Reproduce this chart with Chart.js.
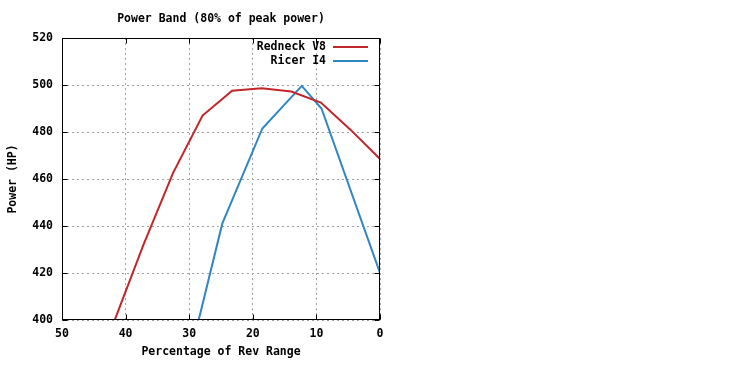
<!DOCTYPE html>
<html>
<head>
<meta charset="utf-8">
<title>Power Band</title>
<script src="https://cdn.jsdelivr.net/npm/chart.js@4.4.0/dist/chart.umd.min.js"></script>
<style>
body { margin: 0; background: #fff; }
#wrap { width: 740px; height: 374px; }
</style>
</head>
<body>
<div id="wrap"><canvas id="powerChart" width="740" height="374"></canvas></div>
<script>
// values
let revPctV8 = [0, 4.65, 9.3, 13.95, 18.6, 23.25, 27.9, 32.55, 37.2, 41.85]
let powerV8 = [468.5, 481, 492.5, 497.2, 498.6, 497.6, 487, 462.5, 432, 399]
let revPctI4 = [0, 9.2, 12.3, 18.5, 24.8, 28.6]
let powerI4 = [420, 490, 499.6, 481.5, 441, 399]
let seriesNames = ['Redneck V8', 'Ricer I4']
let seriesColors = ['#c0262a', '#2f86c0']
let chartTitle = 'Power Band (80% of peak power)'
let xTitle = 'Percentage of Rev Range'
let yTitle = 'Power (HP)'

let font = { family: '"DejaVu Sans Mono", monospace', size: 11.5, weight: 'bold' }
let fontCss = 'bold 11.5px "DejaVu Sans Mono", monospace'

function toPoints(xs, ys) {
    let pts = []
    for (let i = 0; i < xs.length; i++) {
        pts.push({ x: xs[i], y: ys[i] })
    }
    return pts
}

// gnuplot style frame, inward ticks, title and key
let framePlugin = {
    id: 'frame',
    afterDraw(chart) {
        let ctx = chart.ctx
        let a = chart.chartArea
        let l = Math.round(a.left) + 0.5
        let r = Math.round(a.right) - 0.5
        let t = Math.round(a.top) + 0.5
        let b = Math.round(a.bottom) - 0.5
        ctx.save()
        ctx.strokeStyle = '#000'
        ctx.lineWidth = 1
        ctx.strokeRect(l, t, r - l, b - t)

        let xs = chart.scales.x
        let ys = chart.scales.y
        ctx.beginPath()
        for (let tk of ys.ticks) {
            let py = Math.round(ys.getPixelForValue(tk.value)) + 0.5
            ctx.moveTo(l, py); ctx.lineTo(l + 5, py)
            ctx.moveTo(r, py); ctx.lineTo(r - 5, py)
        }
        for (let tk of xs.ticks) {
            let px = Math.round(xs.getPixelForValue(tk.value)) + 0.5
            ctx.moveTo(px, b); ctx.lineTo(px, b - 5)
            ctx.moveTo(px, t); ctx.lineTo(px, t + 5)
        }
        ctx.stroke()

        ctx.fillStyle = '#000'
        ctx.font = fontCss
        ctx.textAlign = 'center'
        ctx.textBaseline = 'middle'
        ctx.fillText(chartTitle, (a.left + a.right) / 2, 19)

        ctx.textAlign = 'right'
        for (let i = 0; i < seriesNames.length; i++) {
            let ky = 47 + i * 14
            ctx.fillStyle = '#000'
            ctx.fillText(seriesNames[i], 326, ky)
            ctx.strokeStyle = seriesColors[i]
            ctx.lineWidth = 2
            ctx.beginPath()
            ctx.moveTo(333, ky)
            ctx.lineTo(368, ky)
            ctx.stroke()
        }
        ctx.restore()
    }
}

function drawPowerChart() {
    let chartData = {
        datasets: [{
            label: seriesNames[0],
            data: toPoints(revPctV8, powerV8),
            borderColor: seriesColors[0],
            borderWidth: 2,
            pointRadius: 0,
            showLine: true,
            fill: false
        }, {
            label: seriesNames[1],
            data: toPoints(revPctI4, powerI4),
            borderColor: seriesColors[1],
            borderWidth: 2,
            pointRadius: 0,
            showLine: true,
            fill: false
        }]
    }

    let ctx = document.getElementById('powerChart')
    let powerChart = new Chart(ctx, {
        type: 'scatter',
        data: chartData,
        options: {
            responsive: false,
            animation: false,
            devicePixelRatio: 1,
            layout: { padding: { top: 38, right: 360, left: 0, bottom: 0 } },
            plugins: {
                legend: { display: false },
                title: { display: false },
                tooltip: { enabled: false }
            },
            scales: {
                x: {
                    type: 'linear',
                    reverse: true,
                    min: 0,
                    max: 50,
                    ticks: { stepSize: 10, color: '#000', font: font, padding: 7, maxRotation: 0 },
                    grid: { color: '#a0a0a0', drawTicks: false },
                    border: { display: false, dash: [2, 3] },
                    title: { display: true, text: xTitle, color: '#000', font: font, padding: { top: 0, bottom: 15 } },
                    afterFit: function(scale) { scale.height = 54 }
                },
                y: {
                    min: 400,
                    max: 520,
                    ticks: { stepSize: 20, color: '#000', font: font, padding: 9 },
                    grid: { color: '#a0a0a0', drawTicks: false },
                    border: { display: false, dash: [2, 3] },
                    title: { display: true, text: yTitle, color: '#000', font: font, padding: { top: 6, bottom: 0 } },
                    afterFit: function(scale) { scale.width = 62 }
                }
            }
        },
        plugins: [framePlugin]
    })
}

drawPowerChart()
</script>
</body>
</html>
